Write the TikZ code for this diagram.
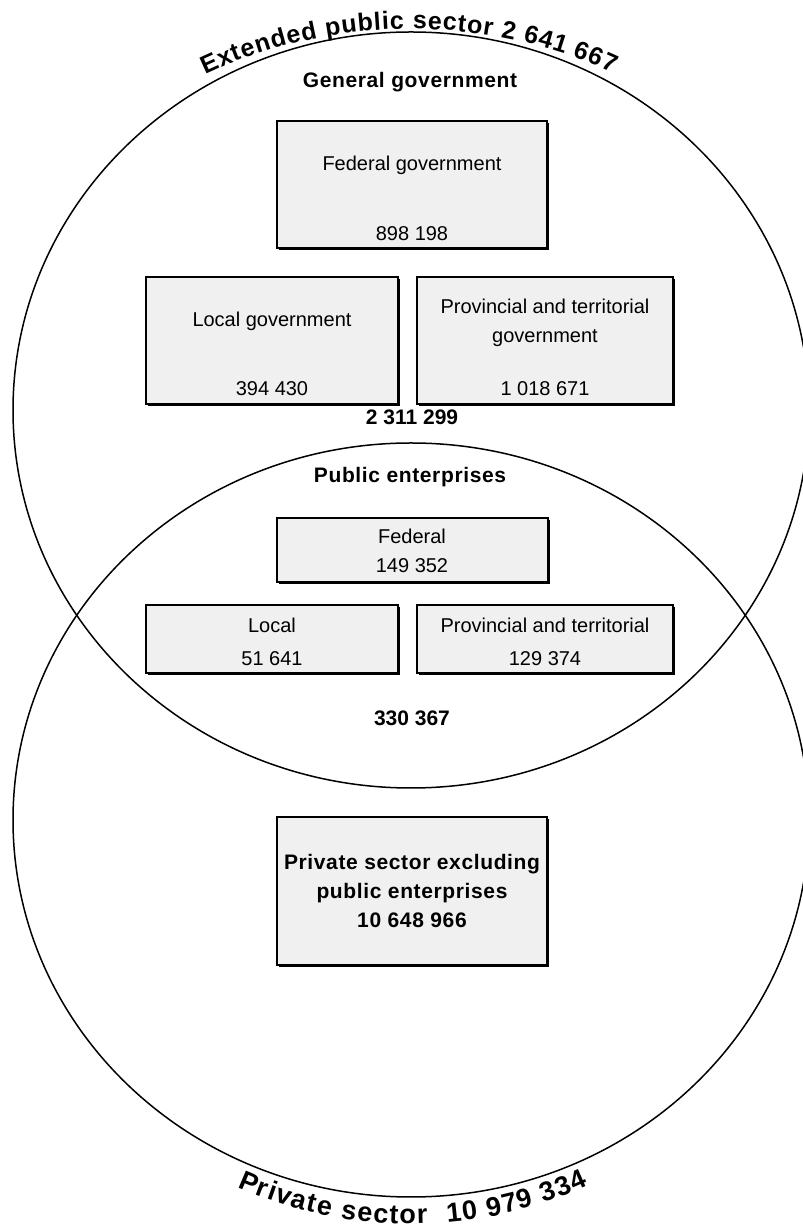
\documentclass[tikz,border=0pt]{standalone}
\usepackage{fontspec}
\setmainfont{Liberation Sans}
\newfontfamily\spacedfont[LetterSpace=3]{Liberation Sans}
\usetikzlibrary{shadows,decorations.text}

\newcommand\bodyfont{\fontsize{20}{24}\selectfont}
\newcommand\headfont{\fontsize{21}{29}\selectfont\bfseries}
\newcommand\spacedhead{\spacedfont\fontsize{21}{29}\selectfont\bfseries}
\newcommand\topbandfont{\fontsize{25}{30}\selectfont\bfseries}
\newcommand\botbandfont{\fontsize{27}{32}\selectfont\bfseries}

\begin{document}
\begin{tikzpicture}[x=1pt,y=1pt,
  box/.style={draw,line width=1.8,fill=gray!12,inner sep=0,
    general shadow={fill=black,shadow xshift=1.8pt,shadow yshift=-1.8pt}},
  txt/.style={inner sep=0,text height=14.5,text depth=0,font=\bodyfont},
  head/.style={inner sep=0,text height=15,text depth=0,font=\spacedhead},
  total/.style={inner sep=0,text height=15,text depth=0,font=\headfont}]
\useasboundingbox (0,0) rectangle (803,1229);
\clip (0,0) rectangle (803,1229);

% Two sectors
\foreach \cy/\ry in {819/378,409/377} {
  \draw[line width=1.5] (411,\cy) ellipse [x radius=398,y radius=\ry];
}

% Titles along the arcs
\path[decorate,decoration={text along path,text align={fit to path},
  text={|\topbandfont|Extended public sector 2 641 667}}]
  (411,819) ++(118.4:433 and 381)
  arc[start angle=118.4,end angle=62.2,x radius=433,y radius=381];
\path[decorate,decoration={text along path,text align={fit to path},
  text={|\botbandfont|Private sector}}]
  (411,409) ++(245.3:416 and 404)
  arc[start angle=245.3,end angle=272.3,x radius=416,y radius=404];
\path[decorate,decoration={text along path,text align={fit to path},
  text={|\botbandfont|10 979 334}}]
  (411,409) ++(275:416 and 404)
  arc[start angle=275,end angle=295.2,x radius=416,y radius=404];

% General government
\node[head] (gglabel) at (410,1149) {General government};

\node[box,minimum width=270,minimum height=127] (fedgov) at (412,1044.5) {};
\node[txt] (fedgovname) at (412,1066) {Federal government};
\node[txt] (fedgovnum) at (412,996) {898 198};

\node[box,minimum width=252,minimum height=127] (localgov) at (272,888.5) {};
\node[txt] (localgovname) at (272,910) {Local government};
\node[txt] (localgovnum) at (272,841) {394 430};

\node[box,minimum width=256,minimum height=127] (provgov) at (545,888.5) {};
\node[txt] (provgovname) at (545,923) {Provincial and territorial};
\node[txt] (provgovname2) at (545,894) {government};
\node[txt] (provgovnum) at (545,841) {1 018 671};

\node[total] (ggtotal) at (412,812) {2 311 299};

% Public enterprises
\node[head] (pelabel) at (410,754) {Public enterprises};

\node[box,minimum width=271,minimum height=64] (fedpe) at (412.5,679) {};
\node[txt] (fedpename) at (412,693) {Federal};
\node[txt] (fedpenum) at (412,664) {149 352};

\node[box,minimum width=252,minimum height=68] (localpe) at (272,590) {};
\node[txt] (localpename) at (272,604) {Local};
\node[txt] (localpenum) at (272,571) {51 641};

\node[box,minimum width=256,minimum height=68] (provpe) at (545,590) {};
\node[txt] (provpename) at (545,604) {Provincial and territorial};
\node[txt] (provpenum) at (545,571) {129 374};

\node[total] (petotal) at (412,511) {330 367};

% Private sector
\node[box,minimum width=270,minimum height=148,align=center,font=\spacedhead]
  (privbox) at (412,338) {Private sector excluding\\public enterprises\\10 648 966};
\end{tikzpicture}
\end{document}
